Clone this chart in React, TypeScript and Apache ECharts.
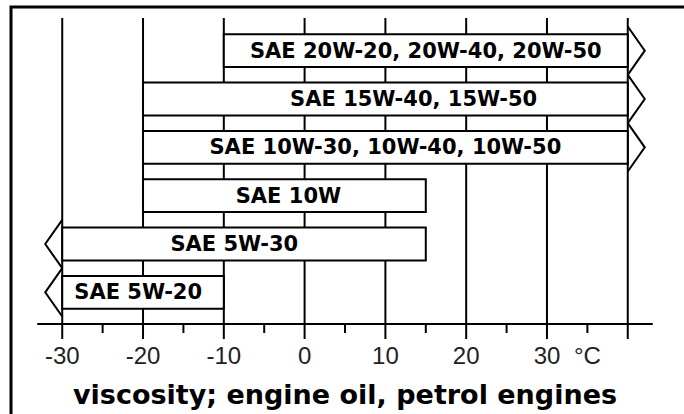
import React, { useEffect, useRef } from "react";
import * as echarts from "echarts";

// ---- data ----
const grades = [
  "SAE 20W-20, 20W-40, 20W-50",
  "SAE 15W-40, 15W-50",
  "SAE 10W-30, 10W-40, 10W-50",
  "SAE 10W",
  "SAE 5W-30",
  "SAE 5W-20",
];
const lowTemp = [-10, -20, -20, -20, -30, -30];
const highTemp = [40, 40, 40, 15, 15, -10];
const openLow = [false, false, false, false, true, true];
const openHigh = [true, true, true, false, false, false];
const labelCenter = [15, 13.5, 10, -2, -8.7, -20.6];
const gridValues = [-30, -20, -10, 0, 10, 20, 30, 40];
const minorTickValues = [-25, -15, -5, 5, 15, 25, 35];
const tickValues = [-30, -20, -10, 0, 10, 20, 30, 35];
const tickLabels = ["-30", "-20", "-10", "0", "10", "20", "30", "°C"];
const axisTitle = "viscosity; engine oil, petrol engines";

export default function App() {
  const ref = useRef<HTMLDivElement>(null);

  useEffect(() => {
    if (!ref.current) return;
    const chart = echarts.init(ref.current, null, { renderer: "svg" });

    const option: any = {
      animation: false,
      backgroundColor: "#fff",
      grid: { left: 38, right: 32, top: 26.5, bottom: 97.5 },
      xAxis: {
        type: "value",
        min: -33,
        max: 43,
        offset: 7.5,
        axisLine: { show: true, lineStyle: { color: "#000", width: 2 } },
        axisTick: { show: false },
        axisLabel: {
          customValues: tickValues,
          formatter: (v: number) => {
            const k = tickValues.indexOf(v);
            return k >= 0 ? tickLabels[k] : "";
          },
          margin: 31,
          verticalAlign: "middle",
          fontFamily: "'Liberation Sans', Arial, sans-serif",
          fontSize: 24,
          color: "#222",
        },
        splitLine: { show: false },
        name: axisTitle,
        nameLocation: "middle",
        nameGap: 70.5,
        nameTextStyle: {
          fontFamily: "'DejaVu Sans', sans-serif",
          fontWeight: "bold",
          fontSize: 27,
          color: "#000",
          verticalAlign: "middle",
        },
      },
      yAxis: {
        type: "category",
        inverse: true,
        data: grades,
        show: false,
      },
      graphic: [
        {
          type: "rect",
          silent: true,
          shape: { x: 11, y: 7, width: 900, height: 600 },
          style: { fill: "none", stroke: "#000", lineWidth: 3 },
        },
      ],
      series: [
        {
          type: "custom",
          silent: true,
          z: 1,
          data: gridValues.map((v) => [v]),
          renderItem: (params: any, api: any) => {
            const x = api.coord([api.value(0), 0])[0];
            const cs = params.coordSys;
            return {
              type: "line",
              shape: { x1: x, y1: cs.y - 8.5, x2: x, y2: cs.y + cs.height + 22.5 },
              style: { stroke: "#000", lineWidth: 2 },
            };
          },
        },
        {
          type: "custom",
          silent: true,
          z: 1,
          data: minorTickValues.map((v) => [v]),
          renderItem: (params: any, api: any) => {
            const x = api.coord([api.value(0), 0])[0];
            const cs = params.coordSys;
            const yAxisLine = cs.y + cs.height + 7.5;
            return {
              type: "line",
              shape: { x1: x, y1: yAxisLine, x2: x, y2: yAxisLine + 9 },
              style: { stroke: "#000", lineWidth: 2 },
            };
          },
        },
        {
          type: "custom",
          silent: true,
          z: 3,
          data: grades.map((g, i) => [lowTemp[i], highTemp[i], i]),
          renderItem: (params: any, api: any) => {
            const i = params.dataIndex;
            const p0 = api.coord([lowTemp[i], i]);
            const p1 = api.coord([highTemp[i], i]);
            const band = api.size([0, 1])[1];
            const h = band * 0.68;
            const yc = p0[1];
            const children: any[] = [
              {
                type: "rect",
                shape: { x: p0[0], y: yc - h / 2, width: p1[0] - p0[0], height: h },
                style: { fill: "#fff", stroke: "#000", lineWidth: 2 },
              },
              {
                type: "text",
                style: {
                  text: grades[i],
                  x: api.coord([labelCenter[i], i])[0],
                  y: yc,
                  align: "center",
                  verticalAlign: "middle",
                  fontFamily: "'DejaVu Sans', sans-serif",
                  fontWeight: "bold",
                  fontSize: 21,
                  fill: "#000",
                },
              },
            ];
            if (openHigh[i]) {
              children.push({
                type: "polyline",
                shape: {
                  points: [
                    [p1[0], yc - band / 2],
                    [p1[0] + 17, yc],
                    [p1[0], yc + band / 2],
                  ],
                },
                style: { stroke: "#000", lineWidth: 2, fill: "none" },
              });
            }
            if (openLow[i]) {
              children.push({
                type: "polyline",
                shape: {
                  points: [
                    [p0[0], yc - band / 2],
                    [p0[0] - 17, yc],
                    [p0[0], yc + band / 2],
                  ],
                },
                style: { stroke: "#000", lineWidth: 2, fill: "none" },
              });
            }
            return { type: "group", children };
          },
        },
      ],
    };

    chart.setOption(option);
    return () => chart.dispose();
  }, []);

  return (
    <div
      ref={ref}
      style={{ position: "absolute", left: 0, top: 0, width: 684, height: 414, background: "#fff" }}
    />
  );
}
